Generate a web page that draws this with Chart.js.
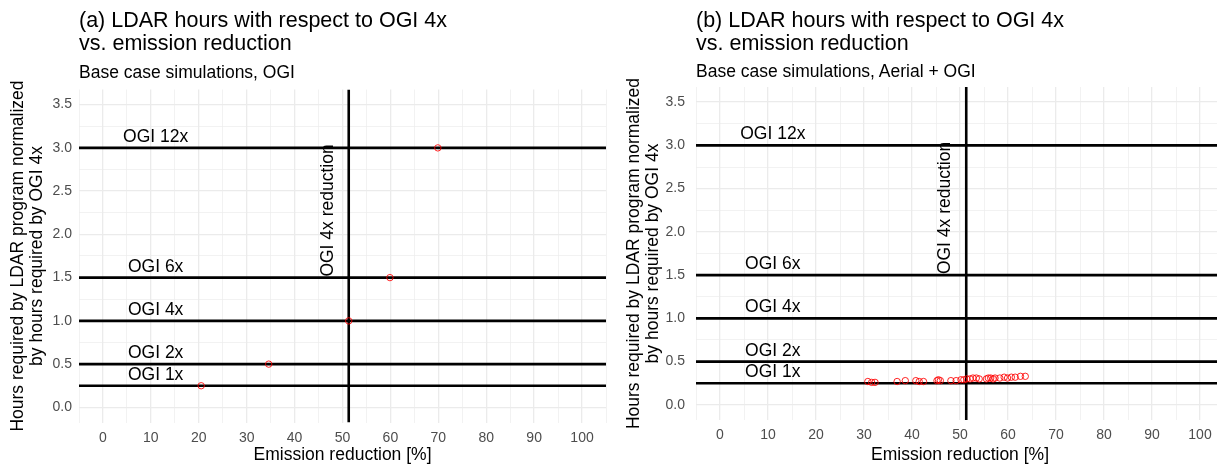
<!DOCTYPE html>
<html>
<head>
<meta charset="utf-8">
<script src="https://cdn.jsdelivr.net/npm/chart.js@4.4.0/dist/chart.umd.min.js"></script>
<style>
  html, body { margin: 0; padding: 0; background: #fff; overflow: hidden; }
  body { width: 1217px; height: 467px; position: relative; font-family: "Liberation Sans", Arial, sans-serif; }
  .panel { position: absolute; top: 0; height: 467px; }
  .title { position: absolute; font-size: 21.5px; line-height: 22.5px; color: #000; white-space: nowrap; }
  .subtitle { position: absolute; font-size: 17.5px; line-height: 20px; color: #000; white-space: nowrap; }
</style>
</head>
<body>
<div class="panel" style="left:0;width:608px"><canvas id="chartA"></canvas></div>
<div class="panel" style="left:608px;width:617px"><canvas id="chartB"></canvas></div>
<div class="title" style="left:79px;top:9px">(a) LDAR hours with respect to OGI 4x<br>vs. emission reduction</div>
<div class="subtitle" style="left:79px;top:62px">Base case simulations, OGI</div>
<div class="title" style="left:696px;top:9px">(b) LDAR hours with respect to OGI 4x<br>vs. emission reduction</div>
<div class="subtitle" style="left:696px;top:61px">Base case simulations, Aerial + OGI</div>
<script>
//---------------------------- data ----------------------------
const xTickValues = [0, 10, 20, 30, 40, 50, 60, 70, 80, 90, 100];
const yTickValues = [0, 0.5, 1, 1.5, 2, 2.5, 3, 3.5];
const levelValues = [0.25, 0.5, 1, 1.5, 3];
const levelLabels = ['OGI 1x', 'OGI 2x', 'OGI 4x', 'OGI 6x', 'OGI 12x'];
const ogi4xReduction = 51.3;
const ogi4xLabel = 'OGI 4x reduction';

// panel (a): OGI only
const ogiReduction = [20.5, 34.6, 51.3, 59.9, 69.9];
const ogiHours = [0.25, 0.5, 1, 1.5, 3];

// panel (b): Aerial + OGI
const aerialReduction = [30.8, 31.6, 32.3, 36.9, 38.6, 40.8, 41.5, 42.4, 45.2, 45.5, 45.9, 48.1, 49.2, 50.2, 50.8, 51.4,
  52.1, 52.7, 53.4, 54.0, 55.5, 55.9, 56.4, 56.9, 57.3, 58.3, 59.2, 59.9, 60.7, 61.5, 62.6, 63.6];
const aerialHours = [0.27, 0.26, 0.26, 0.27, 0.28, 0.28, 0.27, 0.27, 0.28, 0.29, 0.28, 0.28, 0.28, 0.29, 0.29, 0.30,
  0.30, 0.31, 0.31, 0.30, 0.30, 0.31, 0.31, 0.30, 0.31, 0.31, 0.32, 0.31, 0.32, 0.32, 0.33, 0.33];

const xMin = -5, xMax = 105, yMin = -0.175, yMax = 3.675;
const FONT = '"Liberation Sans", Arial, sans-serif';
Chart.defaults.font.family = FONT;

const isOn = (list, v) => list.some(t => Math.abs(t - v) < 1e-9);

// labels for the reference lines
const refLabels = {
    id: 'refLabels',
    afterDatasetsDraw(chart) {
        const { ctx, scales: { x, y } } = chart;
        ctx.save();
        ctx.font = '17.5px ' + FONT;
        ctx.fillStyle = '#000';
        ctx.textAlign = 'center';
        ctx.textBaseline = 'alphabetic';
        levelValues.forEach((v, i) => {
            ctx.fillText(levelLabels[i], x.getPixelForValue(11), y.getPixelForValue(v) - 6);
        });
        ctx.translate(x.getPixelForValue(ogi4xReduction) - 16, y.getPixelForValue(1.5) - 1);
        ctx.rotate(-Math.PI / 2);
        ctx.textAlign = 'left';
        ctx.fillText(ogi4xLabel, 0, 0);
        ctx.restore();
    }
};

function makeChart(id, reduction, hours, g) {
    const datasets = [{
        data: reduction.map((v, i) => ({ x: v, y: hours[i] })),
        showLine: false,
        pointStyle: 'circle',
        pointRadius: 3.2,
        pointBorderWidth: 1,
        pointBorderColor: 'rgba(255,0,0,0.85)',
        pointBackgroundColor: 'rgba(255,255,255,0)',
    }];
    levelValues.forEach(v => {
        datasets.push({
            data: [{ x: xMin, y: v }, { x: xMax, y: v }],
            showLine: true, borderColor: '#000', borderWidth: 2.6, pointRadius: 0,
        });
    });
    datasets.push({
        data: [{ x: ogi4xReduction, y: yMin }, { x: ogi4xReduction, y: yMax }],
        showLine: true, borderColor: '#000', borderWidth: 2.6, pointRadius: 0,
    });

    return new Chart(document.getElementById(id), {
        type: 'scatter',
        data: { datasets },
        options: {
            responsive: true,
            maintainAspectRatio: false,
            animation: false,
            layout: { autoPadding: false, padding: { top: g.top, left: 0, right: g.right, bottom: 0 } },
            plugins: { legend: { display: false }, tooltip: { enabled: false } },
            scales: {
                x: {
                    type: 'linear', min: xMin, max: xMax,
                    afterFit: s => { s.height = g.xHeight; s.paddingLeft = 0; s.paddingRight = 0; },
                    border: { display: false },
                    grid: {
                        drawTicks: false,
                        color: '#ebebeb',
                        lineWidth: c => isOn(xTickValues, c.tick.value) ? 1.3 : 0.65,
                    },
                    ticks: {
                        stepSize: 5, autoSkip: false, maxRotation: 0, padding: 7,
                        color: '#4d4d4d', font: { size: 14 },
                        callback: v => isOn(xTickValues, v) ? String(v) : '',
                    },
                    title: {
                        display: true, text: 'Emission reduction [%]', color: '#000',
                        font: { size: 17.5, lineHeight: 1.2 }, padding: { top: 0, bottom: 1 },
                    },
                },
                y: {
                    type: 'linear', min: yMin, max: yMax,
                    afterFit: s => { s.width = g.yWidth; },
                    border: { display: false },
                    grid: {
                        drawTicks: false,
                        color: '#ebebeb',
                        lineWidth: c => isOn(yTickValues, c.tick.value) ? 1.3 : 0.65,
                    },
                    ticks: {
                        stepSize: 0.25, includeBounds: false, padding: g.tickPad,
                        color: '#4d4d4d', font: { size: 14 },
                        callback: v => isOn(yTickValues, v) ? v.toFixed(1) : '',
                    },
                    title: {
                        display: true,
                        text: ['Hours required by LDAR program normalized', 'by hours required by OGI 4x'],
                        color: '#000',
                        font: { size: 17.5, lineHeight: 1.12 }, padding: { top: g.titlePad, bottom: 0 },
                    },
                },
            },
        },
        plugins: [refLabels],
    });
}

makeChart('chartA', ogiReduction, ogiHours, { top: 89.5, right: 2, xHeight: 44.5, yWidth: 79, tickPad: 7, titlePad: 8 });
makeChart('chartB', aerialReduction, aerialHours, { top: 87, right: 1, xHeight: 47, yWidth: 88, tickPad: 11, titlePad: 16 });
</script>
</body>
</html>
